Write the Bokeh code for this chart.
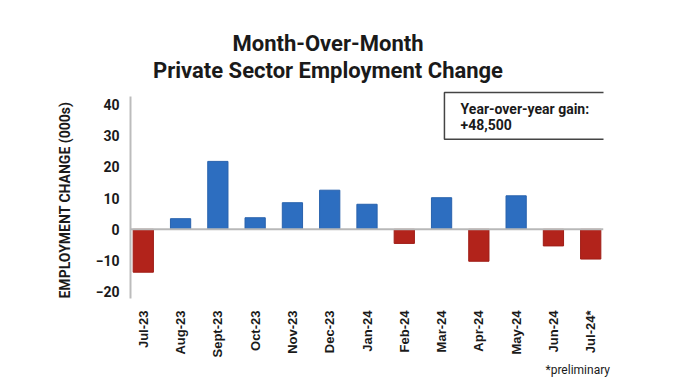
from bokeh.plotting import figure
from bokeh.models import (ColumnDataSource, FactorRange, Range1d, FixedTicker, Span,
                          BoxAnnotation, Label, Title)
from bokeh.embed import file_html
from bokeh.resources import INLINE
from math import pi

months = ["Jul-23", "Aug-23", "Sept-23", "Oct-23", "Nov-23", "Dec-23", "Jan-24",
          "Feb-24", "Mar-24", "Apr-24", "May-24", "Jun-24", "Jul-24*"]
change = [-13.7, 3.4, 21.7, 3.7, 8.5, 12.5, 8.0, -4.5, 10.1, -10.2, 10.7, -5.3, -9.5]
y_ticks = [-20, -10, 0, 10, 20, 30, 40]
title_lines = ["Month-Over-Month", "Private Sector Employment Change"]
y_title = "EMPLOYMENT CHANGE (000s)"
box_lines = ["Year-over-year gain:", "+48,500"]
footnote = "*preliminary"

BLUE = "#2d6ec0"
RED = "#b2231b"
fills = [BLUE if v >= 0 else RED for v in change]
lines = ["#2862ad" if v >= 0 else "#9f1d16" for v in change]

src = ColumnDataSource(dict(m=months, v=change, fill=fills, line=lines))

p = figure(width=659, height=380, output_backend="svg", toolbar_location=None,
           x_range=FactorRange(*months, range_padding=-0.157,
                               range_padding_units="absolute"),
           y_range=Range1d(-22.1, 73.1),
           min_border_left=130, min_border_right=56, min_border_top=0,
           min_border_bottom=82, outline_line_color=None,
           background_fill_color="white", border_fill_color="white")

p.vbar(x="m", top="v", bottom=0, width=0.543, source=src,
       fill_color="fill", line_color="line", line_width=1)

p.add_layout(Span(location=0, dimension="width", line_color="#b8b8b8", line_width=2))

p.xgrid.visible = False
p.ygrid.visible = False

ya = p.yaxis[0]
ya.bounds = (-22.1, 42.4)
ya.ticker = FixedTicker(ticks=y_ticks)
ya.axis_line_color = "#bcbcbc"
ya.axis_line_width = 2
ya.major_tick_line_color = None
ya.minor_tick_line_color = None
ya.major_tick_out = 0
ya.major_label_standoff = 11
ya.major_label_text_font = "Roboto"
ya.major_label_text_font_style = "bold"
ya.major_label_text_font_size = "14px"
ya.major_label_text_color = "#1a1a1a"

p.add_layout(Title(text=y_title, align="left", offset=0, standoff=40,
                   text_font="Roboto", text_font_style="bold",
                   text_font_size="14px", text_color="#1a1a1a"), "left")

xa = p.xaxis[0]
xa.axis_line_color = None
xa.major_tick_line_color = None
xa.minor_tick_line_color = None
xa.major_tick_out = 0
xa.major_label_orientation = pi / 2
xa.major_label_standoff = 12
xa.major_label_text_font = "Liberation Sans"
xa.major_label_text_font_style = "bold"
xa.major_label_text_font_size = "13px"
xa.major_label_text_color = "#1a1a1a"

# title lines
p.add_layout(Label(x=5.454, y=59.52, text=title_lines[0], text_align="center",
                   text_baseline="alphabetic", text_font="Roboto",
                   text_font_style="bold", text_font_size="22px", text_color="#1a1a1a"))
p.add_layout(Label(x=5.454, y=50.74, text=title_lines[1], text_align="center",
                   text_baseline="alphabetic", text_font="Roboto",
                   text_font_style="bold", text_font_size="22px", text_color="#1a1a1a"))

# callout box
p.add_layout(BoxAnnotation(left=8.577, right=12.922, top=43.7, bottom=28.8,
                           fill_color="white", fill_alpha=1,
                           line_color="#444444", line_alpha=1, line_width=1.5))
p.add_layout(Label(x=9.011, y=38.58, text=box_lines[0], text_align="left",
                   text_baseline="alphabetic", text_font="Roboto",
                   text_font_style="bold", text_font_size="14px", text_color="#1a1a1a"))
p.add_layout(Label(x=9.011, y=33.48, text=box_lines[1], text_align="left",
                   text_baseline="alphabetic", text_font="Roboto",
                   text_font_style="bold", text_font_size="14px", text_color="#1a1a1a"))

p.add_layout(Title(text=footnote, align="left", offset=415, vertical_align="top",
                   standoff=4, text_font="Roboto", text_font_style="normal",
                   text_font_size="12px", text_color="#1a1a1a"), "below")

open("out.html", "w").write(file_html(p, INLINE))
